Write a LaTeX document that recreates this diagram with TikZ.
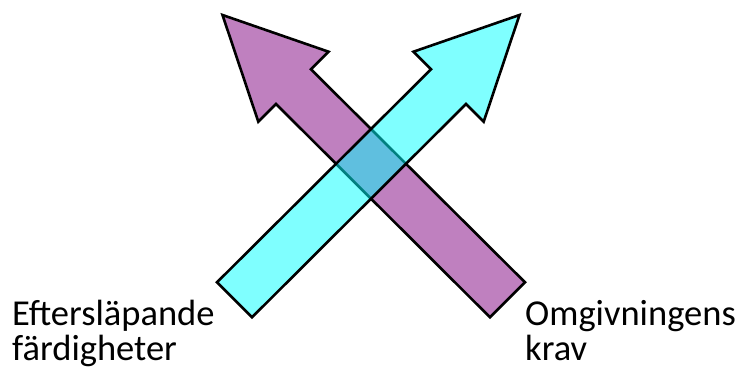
\documentclass[tikz,border=0pt]{standalone}
\usepackage{fontspec}
\setmainfont{Carlito}
\begin{document}
\begin{tikzpicture}[x=1pt,y=-1pt,
  arrowshape/.style={draw=black,line width=2.6pt,line join=miter,miter limit=10},
  lbl/.style={inner sep=0pt,anchor=base west,align=left,font=\fontsize{36.5}{35}\selectfont}]
\useasboundingbox (0,0) rectangle (742,374);
% purple arrow (pointing up-left)
\fill[fill={rgb,255:red,191;green,128;blue,191}] (222.5,15) -- (328.5,51.7) -- (311,69.3) -- (525,282.3) -- (490,317.3) -- (276,104) -- (258.3,121.7) -- cycle;
\draw[arrowshape] (222.5,15) -- (328.5,51.7) -- (311,69.3) -- (525,282.3) -- (490,317.3) -- (276,104) -- (258.3,121.7) -- cycle;
% cyan arrow (pointing up-right), semi-transparent
\fill[fill={rgb,255:red,0;green,255;blue,255},fill opacity=0.5] (519.5,15) -- (413.5,51.7) -- (431,69.3) -- (217,282.3) -- (252,317.3) -- (466,104) -- (483.7,121.7) -- cycle;
\draw[arrowshape] (519.5,15) -- (413.5,51.7) -- (431,69.3) -- (217,282.3) -- (252,317.3) -- (466,104) -- (483.7,121.7) -- cycle;
\node[lbl] (left) at (12,360) {Eftersläpande\\färdigheter};
\node[lbl] (right) at (525,360) {Omgivningens\\krav};
\end{tikzpicture}
\end{document}
